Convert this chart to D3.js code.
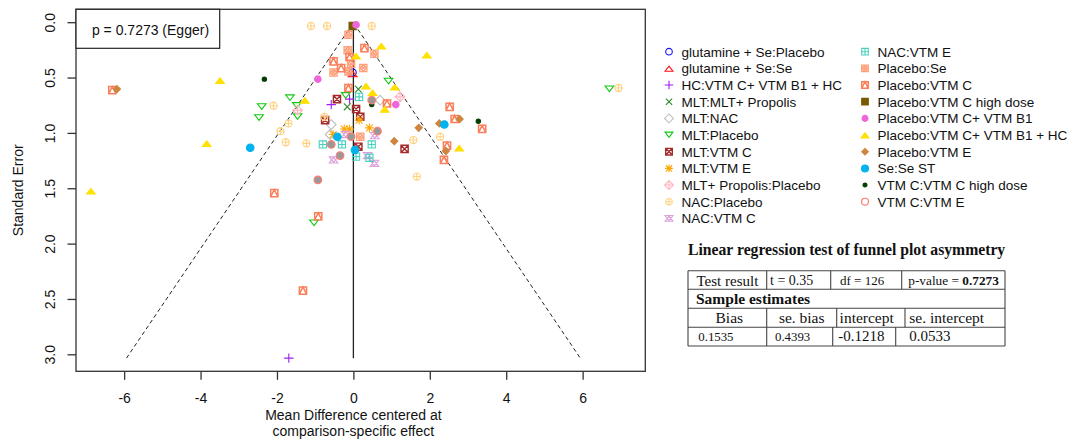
<!DOCTYPE html>
<html>
<head>
<meta charset="utf-8">
<script src="https://cdn.jsdelivr.net/npm/d3@7"></script>
<style>
  body { margin: 0; background: #fff; }
  svg { display: block; }
  .sans { font-family: "Liberation Sans", Arial, sans-serif; }
  .serif { font-family: "Liberation Serif", "Times New Roman", serif; }
</style>
</head>
<body>
<svg id="chart" width="1073" height="441"></svg>
<script>
//data
var comparisons = ["glutamine + Se:Placebo", "glutamine + Se:Se", "HC:VTM C+ VTM B1 + HC", "MLT:MLT+ Propolis",
  "MLT:NAC", "MLT:Placebo", "MLT:VTM C", "MLT:VTM E", "MLT+ Propolis:Placebo", "NAC:Placebo", "NAC:VTM C",
  "NAC:VTM E", "Placebo:Se", "Placebo:VTM C", "Placebo:VTM C high dose", "Placebo:VTM C+ VTM B1",
  "Placebo:VTM C+ VTM B1 + HC", "Placebo:VTM E", "Se:Se ST", "VTM C:VTM C high dose", "VTM C:VTM E"];

// [mean difference, standard error] per comparison
var points = [
  [[-0.02, 0.45]],
  [[-0.02, 0.46]],
  [[-0.58, 0.74], [-0.10, 0.69], [-1.69, 3.03]],
  [[0.13, 0.60], [-0.16, 0.76]],
  [[-0.58, 0.92], [-0.61, 1.01], [0.70, 0.70]],
  [[-1.66, 0.68], [-2.40, 0.76], [-2.47, 0.86], [-1.48, 0.75], [-1.46, 0.85], [6.70, 0.60], [0.92, 0.53], [-0.20, 0.66], [-1.03, 1.81]],
  [[-0.43, 0.69], [-0.74, 0.88], [0.07, 0.78], [0.18, 0.85], [0.13, 1.12], [1.34, 1.14]],
  [[0.15, 0.88], [0.42, 0.95], [-0.10, 0.96], [-0.24, 0.96], [-0.53, 1.01]],
  [[-1.46, 0.79], [1.22, 0.67]],
  [[-1.11, 0.03], [-0.69, 0.03], [0.48, 0.03], [-2.09, 0.75], [-1.70, 0.91], [-1.91, 0.98], [-1.77, 1.08], [-1.23, 1.09],
   [1.57, 1.06], [2.27, 1.03], [1.66, 1.39], [6.94, 0.59], [-0.76, 0.85]],
  [[-0.52, 1.24], [-0.20, 1.01], [0.37, 1.20], [0.55, 1.27], [0.56, 1.02]],
  [[-0.80, 1.10], [-0.30, 1.10], [0.48, 1.10], [0.07, 1.21], [0.42, 1.22], [0.15, 0.67]],
  [[-0.13, 0.11], [-0.15, 0.25], [-0.06, 0.37], [0.55, 0.28], [0.26, 0.41], [-0.52, 0.45], [-0.13, 0.44], [0.18, 1.03]],
  [[0.29, 0.23], [-0.52, 0.35], [-0.32, 0.41], [-0.10, 0.31], [-0.13, 0.59], [0.88, 0.73], [2.52, 0.76], [2.65, 0.87],
   [3.37, 0.96], [2.45, 1.11], [2.37, 1.24], [-6.31, 0.61], [-2.07, 1.54], [-0.92, 1.75], [-1.32, 2.42]],
  [[-0.02, 0.03]],
  [[0.07, 0.02], [-0.93, 0.51], [1.11, 0.74]],
  [[0.73, 0.21], [1.92, 0.29], [0.07, 0.30], [0.33, 0.57], [0.50, 0.63], [1.08, 0.58], [0.82, 0.78], [2.77, 1.13],
   [-1.27, 0.70], [-3.49, 0.52], [-3.84, 1.09], [-6.87, 1.52]],
  [[-6.19, 0.60], [1.71, 0.95], [2.25, 0.91], [2.78, 0.87], [1.07, 1.07], [2.42, 1.16]],
  [[-2.70, 1.13], [-0.42, 1.03], [0.04, 1.15], [2.38, 0.92]],
  [[-2.33, 0.51], [3.27, 0.89], [0.48, 0.74]],
  [[-0.58, 1.10], [-0.35, 1.20], [-0.93, 1.42], [-0.06, 1.03], [0.48, 0.70], [0.63, 0.98]]
];

var xTicks = [-6, -4, -2, 0, 2, 4, 6];
var yTicks = [0, 0.5, 1, 1.5, 2, 2.5, 3];
var yTickLabels = ["0.0", "0.5", "1.0", "1.5", "2.0", "2.5", "3.0"];
var maxSE = 3.03;
var eggerText = "p = 0.7273 (Egger)";

var tableTitle = "Linear regression test of funnel plot asymmetry";
var testRow = ["Test result", "t = 0.35", "df = 126", "p-value = ", "0.7273"];
var estHeader = ["Bias", "se. bias", "intercept", "se. intercept"];
var estValues = ["0.1535", "0.4393", "-0.1218", "0.0533"];

//styles
var pchCodes = d3.range(1, 22);
var colours = ["#1010F0", "#FF1010", "#A020F0", "#2E8B2E", "#BEBEBE", "#10C810", "#A52A2A", "#FFA500", "#FFB6C1",
  "#FFD27F", "#DDA0DD", "#48D1C0", "#FFA07A", "#FA7F5A", "#7A5A00", "#EE66D8", "#FFE000", "#CD853F",
  "#00B2EE", "#003D00", "#FA8072"];

var svg = d3.select("#chart");
var plot = {left: 76, right: 645.3, top: 9.3, bottom: 371.3};

var x = d3.scaleLinear().domain([-7.26, 7.64]).range([plot.left, plot.right]);
var y = d3.scaleLinear().domain([-0.121, 3.149]).range([plot.top, plot.bottom]);

//symbol drawing, roughly R's pch shapes
function drawMark(g, pch, col, s, inLegend)
{
  function path(d, fill) {
    return g.append("path").attr("d", d)
      .attr("fill", fill ? col : "none")
      .attr("stroke", col).attr("stroke-width", 1.1);
  }
  var w = s * 1.2, h = w * 1.732 / 2;
  var up = "M0," + (-h * 2 / 3) + "L" + w + "," + (h * 2 / 3 + 0.6) + "L" + (-w) + "," + (h * 2 / 3 + 0.6) + "Z";
  var down = "M0," + (h * 2 / 3) + "L" + w + "," + (-h * 2 / 3 - 0.6) + "L" + (-w) + "," + (-h * 2 / 3 - 0.6) + "Z";
  var sq = "M" + (-s) + "," + (-s) + "h" + (2 * s) + "v" + (2 * s) + "h" + (-2 * s) + "Z";
  var plus = "M" + (-s) + ",0h" + (2 * s) + "M0," + (-s) + "v" + (2 * s);
  var k = s * 0.95;
  var cross = "M" + (-k) + "," + (-k) + "L" + k + "," + k + "M" + (-k) + "," + k + "L" + k + "," + (-k);
  var d = s * 1.35;
  var diamond = "M0," + (-d) + "L" + d + ",0L0," + d + "L" + (-d) + ",0Z";
  var circ = function(r) { return "M" + (-r) + ",0a" + r + "," + r + " 0 1,0 " + (2 * r) + ",0a" + r + "," + r + " 0 1,0 " + (-2 * r) + ",0Z"; };

  switch(pch)
  {
    case 1: path(circ(s)); break;
    case 2: path(up); break;
    case 3: path("M" + (-s * 1.3) + ",0h" + (2.6 * s) + "M0," + (-s * 1.3) + "v" + (2.6 * s)); break;
    case 4: path(cross); break;
    case 5: path(diamond); break;
    case 6: path(down); break;
    case 7: path(sq + cross).attr("stroke-width", 1.4); break;
    case 8: path("M" + (-s * 1.2) + ",0h" + (2.4 * s) + "M0," + (-s * 1.2) + "v" + (2.4 * s) + cross); break;
    case 9: path(diamond + "M" + (-d) + ",0h" + (2 * d) + "M0," + (-d) + "v" + (2 * d)); break;
    case 10: path(circ(s) + plus); break;
    case 11: path(up + down); break;
    case 12: path(sq + plus); break;
    case 13: path(sq + circ(s * 0.7) + "M" + (-s * 0.5) + "," + (-s * 0.5) + "L" + (s * 0.5) + "," + (s * 0.5) + "M" + (-s * 0.5) + "," + (s * 0.5) + "L" + (s * 0.5) + "," + (-s * 0.5)).attr("stroke-width", 1.3); break;
    case 14: path(sq + "M" + (-s) + "," + s + "L0," + (-s) + "L" + s + "," + s).attr("stroke-width", 1.5); break;
    case 15: path(sq, true); break;
    case 16: path(circ(s * 0.9), true); break;
    case 17: path(up, true); break;
    case 18: path("M0," + (-s) + "L" + s + ",0L0," + s + "L" + (-s) + ",0Z", true); break;
    case 19: path(circ(s * 1.05), true); break;
    case 20: path(circ(s * 0.6), true); break;
    case 21:
      g.append("path").attr("d", circ(s * 1.05)).attr("fill", inLegend ? "none" : "#999")
        .attr("stroke", col).attr("stroke-width", 1.2);
      break;
  }
}

//funnel lines
svg.append("path")
  .attr("d", d3.line()([[x(-1.96 * maxSE), y(maxSE)], [x(0), y(0)], [x(1.96 * maxSE), y(maxSE)]]))
  .attr("fill", "none").attr("stroke", "#222").attr("stroke-width", 1).attr("stroke-dasharray", "4,3");
svg.append("line")
  .attr("x1", x(0)).attr("x2", x(0)).attr("y1", y(0)).attr("y2", y(maxSE))
  .attr("stroke", "#222").attr("stroke-width", 1.3);

//points
var marks = svg.append("g");
points.forEach(function(series, i)
  {
    series.forEach(function(p)
      {
        var g = marks.append("g").attr("transform", "translate(" + x(p[0]) + "," + y(p[1]) + ")");
        drawMark(g, pchCodes[i], colours[i], 3.6, false);
      });
  });

//box
svg.append("rect")
  .attr("x", plot.left).attr("y", plot.top)
  .attr("width", plot.right - plot.left).attr("height", plot.bottom - plot.top)
  .attr("fill", "none").attr("stroke", "#333").attr("stroke-width", 1.3);

//axes
var xAxis = d3.axisBottom(x).tickValues(xTicks).tickSize(8.5).tickPadding(13.5).tickFormat(d3.format("d"));
var gx = svg.append("g").attr("transform", "translate(0," + plot.bottom + ")").call(xAxis);
gx.select(".domain").remove();
gx.selectAll(".tick line").attr("stroke", "#333").attr("stroke-width", 1.3);
gx.selectAll("text").attr("class", "sans").attr("font-size", 14).attr("fill", "#111")
  .text(function(d) { return d < 0 ? "-" + Math.abs(d) : d; });

var gy = svg.append("g");
gy.selectAll("line").data(yTicks).enter().append("line")
  .attr("x1", plot.left).attr("x2", plot.left - 8.5)
  .attr("y1", function(d) { return y(d); }).attr("y2", function(d) { return y(d); })
  .attr("stroke", "#333").attr("stroke-width", 1.3);
gy.selectAll("text").data(yTicks).enter().append("text")
  .attr("class", "sans").attr("font-size", 14).attr("fill", "#111")
  .attr("text-anchor", "middle")
  .attr("transform", function(d) { return "translate(55," + y(d) + ") rotate(-90)"; })
  .text(function(d, i) { return yTickLabels[i]; });

svg.append("text").attr("class", "sans").attr("font-size", 14).attr("fill", "#111")
  .attr("text-anchor", "middle")
  .attr("transform", "translate(23," + ((plot.top + plot.bottom) / 2) + ") rotate(-90)")
  .text("Standard Error");
svg.append("text").attr("class", "sans").attr("font-size", 14).attr("fill", "#111")
  .attr("text-anchor", "middle").attr("x", x(0)).attr("y", 420)
  .text("Mean Difference centered at");
svg.append("text").attr("class", "sans").attr("font-size", 14).attr("fill", "#111")
  .attr("text-anchor", "middle").attr("x", x(0)).attr("y", 436)
  .text("comparison-specific effect");

//egger box
svg.append("rect").attr("x", plot.left).attr("y", plot.top).attr("width", 143.7).attr("height", 39)
  .attr("fill", "#fff").attr("stroke", "#222").attr("stroke-width", 1.2);
svg.append("text").attr("class", "sans").attr("font-size", 14).attr("fill", "#111")
  .attr("text-anchor", "middle").attr("dominant-baseline", "central")
  .attr("x", 150.5).attr("y", 30).text(eggerText);

//legend
var legend = svg.append("g");
comparisons.forEach(function(name, i)
  {
    var col = i < 11 ? 0 : 1, row = i < 11 ? i : i - 11;
    var ly = 51.7 + row * 16.67;
    var sx = col == 0 ? 669 : 865;
    var g = legend.append("g").attr("transform", "translate(" + sx + "," + ly + ")");
    drawMark(g, pchCodes[i], colours[i], 3.3, true);
    legend.append("text").attr("class", "sans").attr("font-size", 13.5).attr("fill", "#111")
      .attr("dominant-baseline", "central")
      .attr("x", sx + 12.5).attr("y", ly + 0.5).text(name);
  });

//regression table
var tbl = svg.append("g").attr("class", "serif").attr("fill", "#111");
tbl.append("text").attr("x", 688).attr("y", 255).attr("font-size", 15.7).attr("font-weight", "bold").text(tableTitle);

var tLeft = 688, tRight = 1005;
var rowLines = [270.7, 289.3, 308.3, 327.3, 346];
rowLines.forEach(function(ry)
  {
    tbl.append("line").attr("x1", tLeft).attr("x2", tRight).attr("y1", ry).attr("y2", ry)
      .attr("stroke", "#444").attr("stroke-width", 1.1);
  });
[tLeft, tRight].forEach(function(cx)
  {
    tbl.append("line").attr("x1", cx).attr("x2", cx).attr("y1", rowLines[0]).attr("y2", rowLines[4])
      .attr("stroke", "#444").attr("stroke-width", 1.1);
  });
function dividers(xs, y0, y1)
{
  xs.forEach(function(cx)
    {
      tbl.append("line").attr("x1", cx).attr("x2", cx).attr("y1", y0).attr("y2", y1)
        .attr("stroke", "#444").attr("stroke-width", 1.1);
    });
}
dividers([766.7, 830.7, 901.7], rowLines[0], rowLines[1]);
dividers([766.7, 836.7, 905], rowLines[2], rowLines[3]);
dividers([766.7, 832.7, 895.7], rowLines[3], rowLines[4]);

tbl.append("text").attr("x", 696.5).attr("y", 285.5).attr("font-size", 15).text(testRow[0]);
tbl.append("text").attr("x", 770).attr("y", 284.5).attr("font-size", 14).text(testRow[1]);
tbl.append("text").attr("x", 840).attr("y", 284.5).attr("font-size", 13).text(testRow[2]);
var pv = tbl.append("text").attr("x", 908.3).attr("y", 284.5).attr("font-size", 13.3);
pv.append("tspan").text(testRow[3]);
pv.append("tspan").attr("font-weight", "bold").text(testRow[4]);

tbl.append("text").attr("x", 696).attr("y", 303.5).attr("font-size", 15.5).attr("font-weight", "bold").text("Sample estimates");

var headX = [729.3, 801.7, 866.7, 946.7];
estHeader.forEach(function(t, i)
  {
    tbl.append("text").attr("x", headX[i]).attr("y", 322.7).attr("font-size", 15.5)
      .attr("text-anchor", "middle").text(t);
  });
var valX = [698.3, 775, 838.3, 909.3];
var valSize = [12.8, 12.8, 15, 15];
estValues.forEach(function(t, i)
  {
    tbl.append("text").attr("x", valX[i]).attr("y", 340.5).attr("font-size", valSize[i]).text(t);
  });
</script>
</body>
</html>
